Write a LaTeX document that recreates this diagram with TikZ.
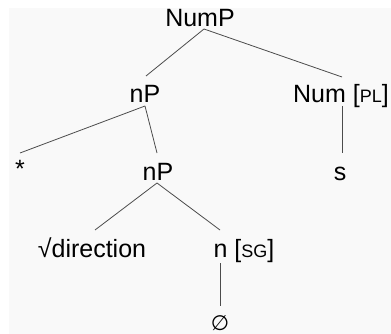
\documentclass[tikz,border=0pt]{standalone}
\usepackage{fontspec}
\setmainfont{Liberation Sans}
\newfontfamily\symfont{DejaVu Sans}
\newcommand{\smc}[1]{{\fontsize{18pt}{18pt}\selectfont #1}}
\begin{document}
\begin{tikzpicture}[x=1pt,y=-1pt,
  lbl/.style={inner sep=0pt,anchor=base,font=\fontsize{25pt}{25pt}\selectfont},
  branch/.style={draw=black!70,line width=0.8pt}]
\useasboundingbox (0,0) rectangle (391,334);
\fill[white] (0,0) rectangle (391,334);
\fill[black!2.5] (9,8) rectangle (391,334);
% nodes
\node[lbl] (NumP) at (200,27) {NumP};
\node[lbl] (nP) at (145,103) {nP};
\node[lbl] (Num) at (341,103) {Num [\smc{PL}]};
\node[lbl] (star) at (20,178) {*};
\node[lbl] (nP2) at (158,181) {nP};
\node[lbl] (s) at (340,181) {s};
\node[lbl] (root) at (92,257) {√direction};
\node[lbl] (n) at (244,257) {n [\smc{SG}]};
\node[inner sep=0pt,font=\symfont\fontsize{21pt}{21pt}\selectfont] (null) at (220,323) {∅};
% connector ends
\coordinate (NumP-b) at ([xshift=4pt,yshift=-2pt]NumP.base);
\coordinate (nP-t) at ([xshift=1pt,yshift=27pt]nP.base);
\coordinate (Num-t) at ([xshift=1pt,yshift=26pt]Num.base);
\coordinate (nP-b) at ([yshift=-3pt]nP.base);
\coordinate (Num-b) at ([xshift=1pt,yshift=-3pt]Num.base);
\coordinate (star-t) at ([yshift=25pt]star.base);
\coordinate (nP2-t) at ([xshift=-1pt,yshift=28pt]nP2.base);
\coordinate (s-t) at ([xshift=2pt,yshift=28pt]s.base);
\coordinate (nP2-b) at ([xshift=-1pt,yshift=-2pt]nP2.base);
\coordinate (root-t) at ([xshift=3pt,yshift=27pt]root.base);
\coordinate (n-t) at ([xshift=-24pt,yshift=27pt]n.base);
\coordinate (n-b) at ([xshift=-24pt,yshift=-6pt]n.base);
\coordinate (null-t) at ([yshift=17pt]null.center);
% connectors
\draw[branch] (NumP-b) -- (nP-t);
\draw[branch] (NumP-b) -- (Num-t);
\draw[branch] (nP-b) -- (star-t);
\draw[branch] (nP-b) -- (nP2-t);
\draw[branch] (Num-b) -- (s-t);
\draw[branch] (nP2-b) -- (root-t);
\draw[branch] (nP2-b) -- (n-t);
\draw[branch] (n-b) -- (null-t);
\end{tikzpicture}
\end{document}
